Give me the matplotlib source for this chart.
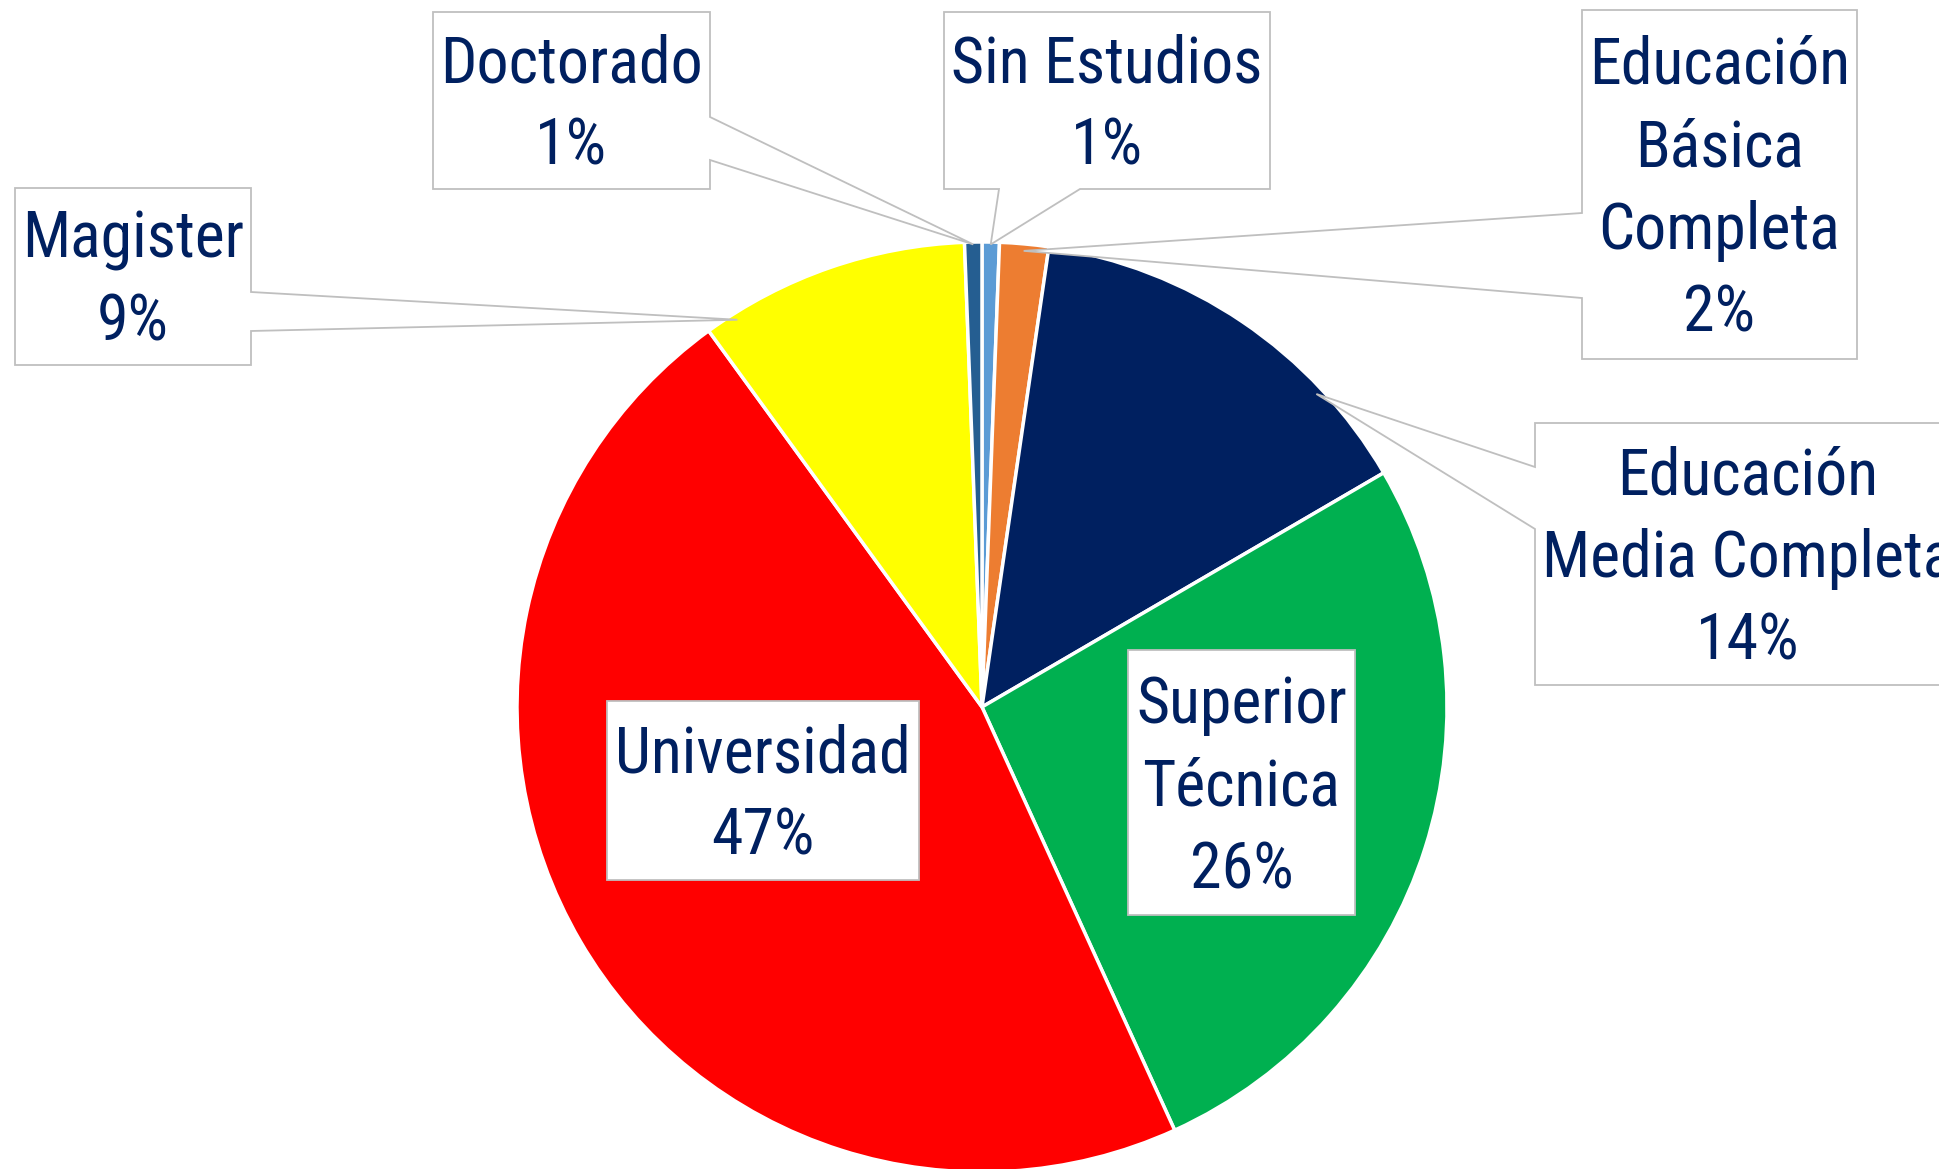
import numpy as np
import matplotlib
matplotlib.use("Agg")
import matplotlib.pyplot as plt
from matplotlib.patches import Polygon

# data
categories = ["Sin Estudios", "Educación\nBásica\nCompleta", "Educación\nMedia Completa",
              "Superior\nTécnica", "Universidad", "Magister", "Doctorado"]
values = [0.6, 1.7, 14.3, 26.6, 46.8, 9.4, 0.6]
pct_labels = ["1%", "2%", "14%", "26%", "47%", "9%", "1%"]
colors = ["#5B9BD5", "#ED7D31", "#002060", "#00B050", "#FF0000", "#FFFF00", "#255E91"]

W, H = 1939, 1169
text_color = "#002060"
edge_gray = "#BFBFBF"

fig = plt.figure(figsize=(W / 100, H / 100), dpi=100)
ax = fig.add_axes([0, 0, 1, 1])


def py(y):
    # pixel row (top origin) -> data y
    return H - y


cx, cy, r = 982, py(707), 465
wedges, _ = ax.pie(values, colors=colors, startangle=90, counterclock=False,
                   center=(cx, cy), radius=r, frame=True,
                   wedgeprops=dict(edgecolor="white", linewidth=2.5))
ax.set_xlim(0, W)
ax.set_ylim(0, H)
ax.axis("off")

# label boxes: (left, top, right, bottom) in pixels, notch side, notch span, tip position in wedge, tip radius
boxes = [
    dict(box=(944, 12, 1270, 189), side="bottom", notch=(999, 1080), frac=0.5, rad=0.995),
    dict(box=(1582, 10, 1857, 359), side="left", notch=(213, 298), frac=0.5, rad=0.985),
    dict(box=(1535, 423, 1960, 685), side="left", notch=(467, 529), frac=0.75, rad=0.985),
    dict(box=(1128, 650, 1355, 915), side=None),
    dict(box=(607, 701, 919, 880), side=None),
    dict(box=(15, 188, 251, 365), side="right", notch=(292, 331), frac=0.11, rad=0.985),
    dict(box=(433, 12, 710, 189), side="right", notch=(117, 160), frac=0.5, rad=0.995),
]

for w, lab, pct, b in zip(wedges, categories, pct_labels, boxes):
    x0, y0, x1, y1 = b["box"]
    pts = [(x0, y0), (x1, y0), (x1, y1), (x0, y1)]
    if b["side"] is not None:
        th = np.deg2rad(w.theta2 - b["frac"] * (w.theta2 - w.theta1))
        tx = cx + b["rad"] * r * np.cos(th)
        ty = H - (cy + b["rad"] * r * np.sin(th))
        n0, n1 = b["notch"]
        if b["side"] == "bottom":
            pts = [(x0, y0), (x1, y0), (x1, y1), (n1, y1), (tx, ty), (n0, y1), (x0, y1)]
        elif b["side"] == "left":
            pts = [(x0, y0), (x1, y0), (x1, y1), (x0, y1), (x0, n1), (tx, ty), (x0, n0)]
        elif b["side"] == "right":
            pts = [(x0, y0), (x1, y0), (x1, n0), (tx, ty), (x1, n1), (x1, y1), (x0, y1)]
    poly = Polygon([(x, py(y)) for x, y in pts], closed=True, facecolor="white",
                   edgecolor=edge_gray, linewidth=1.3, zorder=5)
    ax.add_patch(poly)
    ax.text((x0 + x1) / 2, py((y0 + y1) / 2 + 5), lab + "\n" + pct, ha="center", va="center",
            fontsize=46, color=text_color, linespacing=1.42, zorder=6,
            family=["Roboto Condensed", "Liberation Sans Narrow", "Roboto", "DejaVu Sans"])

fig.savefig("out.png", dpi=100)
